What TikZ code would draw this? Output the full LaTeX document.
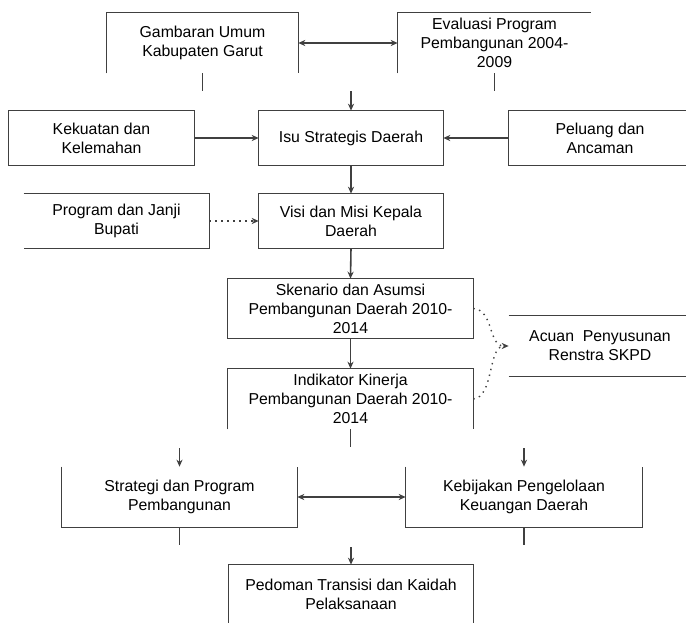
\documentclass[tikz,border=0pt]{standalone}
\usepackage{fontspec}
\setmainfont{Liberation Sans}
\usepackage{tikz}
\usetikzlibrary{arrows.meta,calc}

\begin{document}
\begin{tikzpicture}[x=0.02cm, y=-0.02cm,
  lbl/.style={inner sep=0, align=center, font=\fontsize{9}{10.8}\selectfont},
  side/.style={draw=black!75, line width=0.9pt},
  arr/.style={side, -{Stealth[length=4pt,width=3.5pt]}},
  arrs/.style={side, {Stealth[length=4pt,width=3.5pt]}-{Stealth[length=4pt,width=3.5pt]}},
  dots/.style={side, line width=0.8pt, dash pattern=on 0.8pt off 2.6pt}]
  % page: 686 x 622 px, y grows downwards
  \useasboundingbox (0,0) rectangle (686,622);
  \def\stub{18}
  % top row
  \node[lbl, minimum width=3.82cm, minimum height=1.2cm] (gam) at (202.5,43) {Gambaran Umum\\Kabupaten Garut};
  \draw[side] (gam.south west) |- (gam.north east) -- (gam.south east);
  \node[lbl, minimum width=3.86cm, minimum height=1.2cm] (eva) at (494.5,43) {Evaluasi Program\\Pembangunan 2004-\\2009};
  \draw[side] (eva.south west) |- (eva.north east);
  \draw[arrs] (gam.east) -- (eva.west);
  \draw[side] (gam.south) -- ++(0,\stub);
  \draw[side] (eva.south) -- ++(0,\stub);
  \coordinate (isuin) at (351,91);
  % second row
  \node[lbl, minimum width=3.70cm, minimum height=1.08cm] (kek) at (101.5,138) {Kekuatan dan\\Kelemahan};
  \draw[side] (kek.south west) rectangle (kek.north east);
  \node[lbl, minimum width=3.68cm, minimum height=1.08cm] (isu) at (351,138) {Isu Strategis Daerah};
  \draw[side] (isu.south west) rectangle (isu.north east);
  \node[lbl, minimum width=3.64cm, minimum height=1.08cm] (pel) at (600,138) {Peluang dan\\Ancaman};
  \draw[side] (pel.north east) -| (pel.south west) -- (pel.south east);
  \draw[arr] (isuin) -- (isu.north);
  \draw[arr] (kek.east) -- (isu.west);
  \draw[arr] (pel.west) -- (isu.east);
  % third row
  \node[lbl, minimum width=3.70cm, minimum height=1.08cm] (prog) at (116.5,221) {Program dan Janji\\Bupati};
  \draw[side] (prog.north west) -| (prog.south east) -- (prog.south west);
  \node[lbl, minimum width=3.68cm, minimum height=1.08cm] (visi) at (351,221) {Visi dan Misi Kepala\\Daerah};
  \draw[side] (visi.south west) rectangle (visi.north east);
  \draw[dots] (prog.east) -- ($(visi.west)+(-4,0)$);
  \draw[arr] ($(visi.west)+(-4,0)$) -- (visi.west);
  \draw[arr] (isu.south) -- (visi.north);
  % middle column
  \node[lbl, minimum width=4.90cm, minimum height=1.18cm] (sken) at (350.5,308.5) {Skenario dan Asumsi\\Pembangunan Daerah 2010-\\2014};
  \draw[side] (sken.south west) rectangle (sken.north east);
  \node[lbl, minimum width=4.90cm, minimum height=1.2cm] (ind) at (350.5,399) {Indikator Kinerja\\Pembangunan Daerah 2010-\\2014};
  \draw[side] (ind.south west) |- (ind.north east) -- (ind.south east);
  \draw[arr] (visi.south) -- (sken.north);
  \draw[arr] (sken.south) -- (ind.north);
  \draw[side] (ind.south) -- ++(0,\stub);
  % side box
  \node[lbl, minimum width=3.64cm, minimum height=1.2cm] (acu) at (600,346) {Acuan\ \ Penyusunan\\Renstra SKPD};
  \draw[side] (acu.north west) -- (acu.north east);
  \draw[side] (acu.south west) -- (acu.south east);
  \coordinate (acuin) at ($(acu.west)+(-5,0)$);
  \draw[dots] (sken.east) .. controls (494,310) and (488,346) .. (acuin);
  \draw[dots] (ind.east) .. controls (494,397) and (488,346) .. (acuin);
  \draw[arr] (acuin) -- (acu.west);
  % bottom rows
  \coordinate (strin) at (179.5,448);
  \coordinate (kebin) at (524,448);
  \node[lbl, minimum width=4.70cm, minimum height=1.2cm] (str) at (179.5,497) {Strategi dan Program\\Pembangunan};
  \draw[side] (str.north west) |- (str.south east) -- (str.north east);
  \node[lbl, minimum width=4.72cm, minimum height=1.2cm] (keb) at (524,497) {Kebijakan Pengelolaan\\Keuangan Daerah};
  \draw[side] (keb.north west) |- (keb.south east) -- (keb.north east);
  \draw[arr] (strin) -- (str.north);
  \draw[arr] (kebin) -- (keb.north);
  \draw[arrs] (str.east) -- (keb.west);
  \draw[side] (str.south) -- ++(0,\stub);
  \draw[side] (keb.south) -- ++(0,\stub);
  \coordinate (pedin) at (351,547);
  \node[lbl, minimum width=4.88cm, minimum height=1.16cm] (ped) at (351,594) {Pedoman Transisi dan Kaidah\\Pelaksanaan};
  \draw[side] (ped.south west) |- (ped.north east) -- (ped.south east);
  \draw[arr] (pedin) -- (ped.north);
\end{tikzpicture}
\end{document}
